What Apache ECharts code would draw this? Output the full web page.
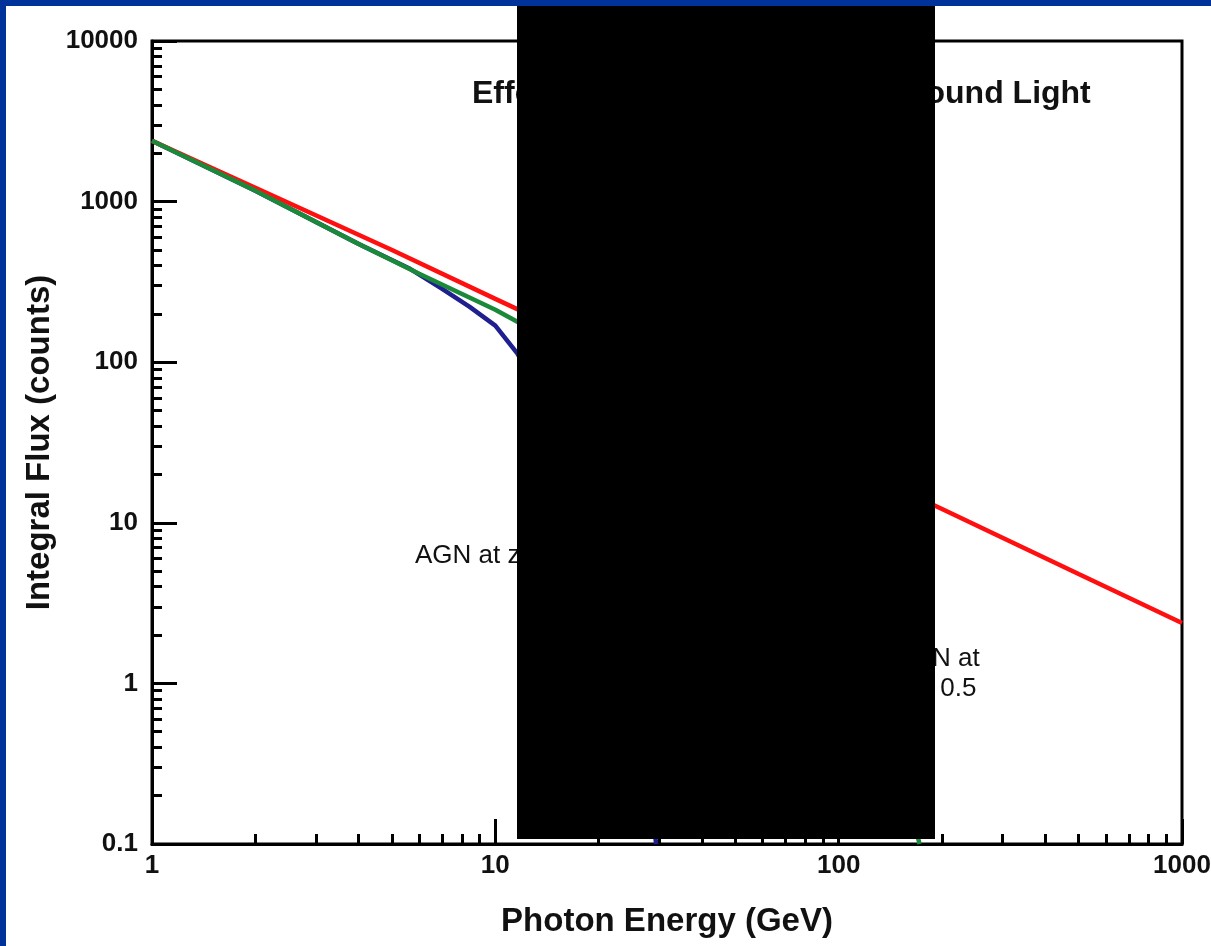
<!DOCTYPE html>
<html>
<head>
<meta charset="utf-8">
<script src="https://cdn.jsdelivr.net/npm/echarts@6/dist/echarts.min.js"></script>
<style>
  html, body { margin: 0; padding: 0; background: #fff; }
  #chart { width: 1211px; height: 946px; }
</style>
</head>
<body>
<div id="chart"></div>
<script>
// photon energy (GeV) and integral flux (counts)
const energyRed = [1, 2, 5, 10, 20, 50, 100, 200, 500, 1000]
const fluxRed = [2390, 1220, 500, 248, 124, 49, 24.4, 12.2, 4.8, 2.38]

const energyGreen = [1, 2, 4, 6, 10, 15, 20, 30, 50, 70, 100, 130, 155, 172]
const fluxGreen = [2390, 1170, 545, 355, 212, 132, 92, 52, 20, 8.5, 2.6, 0.75, 0.25, 0.1]

const energyBlue = [1, 2, 4, 5.6, 7, 8.4, 10, 11.6, 14, 17, 20, 24, 27, 29.4]
const fluxBlue = [2390, 1170, 545, 385, 286, 222, 169, 113, 55, 22, 8, 1.8, 0.5, 0.1]

const xDecades = [0, 1, 2]
const yDecades = [-1, 0, 1, 2, 3]
const minorSteps = [2, 3, 4, 5, 6, 7, 8, 9]

const FONT = '"Liberation Sans", Arial, Helvetica, sans-serif'

const pairs = (xs, ys) => xs.map((x, i) => [x, ys[i]])
const minorTicks = (decades) => {
  const out = []
  decades.forEach((d) => minorSteps.forEach((k) => out.push(d + Math.log10(k))))
  return out
}
const plain = (v) => String(Number(v.toPrecision(6)))

const chart = echarts.init(document.getElementById('chart'))

const tickStyle = { color: '#000', width: 3 }
const labelStyle = { fontFamily: FONT, fontSize: 26, fontWeight: 'bold', color: '#111', formatter: plain }

chart.setOption({
  backgroundColor: '#fff',
  animation: false,
  title: {
    text: 'Effect of Extragalactic Background Light',
    left: 472,
    top: 78,
    padding: 0,
    textStyle: { fontFamily: FONT, fontSize: 32, fontWeight: 'bold', color: '#111' },
  },
  grid: {
    left: 152, right: 29, top: 41, bottom: 102,
    outerBoundsMode: 'none', containLabel: false,
    show: true, borderColor: '#000', borderWidth: 3,
  },
  xAxis: [
    {
      type: 'log', logBase: 10, min: 1, max: 1000,
      name: 'Photon Energy (GeV)', nameLocation: 'middle', nameGap: 61,
      nameTextStyle: { fontFamily: FONT, fontSize: 33, fontWeight: 'bold', color: '#111' },
      axisLine: { onZero: false, lineStyle: { color: '#000', width: 3 } },
      axisTick: { inside: true, length: 25, lineStyle: tickStyle },
      axisLabel: { margin: 9, ...labelStyle },
      splitLine: { show: false },
    },
    {
      type: 'value', min: 0, max: 3, position: 'bottom',
      axisLine: { show: false, onZero: false },
      axisTick: { show: true, inside: true, length: 10, lineStyle: tickStyle, customValues: minorTicks(xDecades) },
      axisLabel: { show: false },
      splitLine: { show: false },
    },
  ],
  yAxis: [
    {
      type: 'log', logBase: 10, min: 0.1, max: 10000,
      name: 'Integral Flux (counts)', nameLocation: 'middle', nameGap: 96, nameMoveOverlap: false,
      nameTextStyle: { fontFamily: FONT, fontSize: 33, fontWeight: 'bold', color: '#111' },
      axisLine: { onZero: false, lineStyle: { color: '#000', width: 3 } },
      axisTick: { inside: true, length: 25, lineStyle: tickStyle },
      axisLabel: { margin: 14, ...labelStyle },
      splitLine: { show: false },
    },
    {
      type: 'value', min: -1, max: 4, position: 'left',
      axisLine: { show: false, onZero: false },
      axisTick: { show: true, inside: true, length: 10, lineStyle: tickStyle, customValues: minorTicks(yDecades) },
      axisLabel: { show: false },
      splitLine: { show: false },
    },
  ],
  series: [
    {
      type: 'line', name: 'blue', data: pairs(energyBlue, fluxBlue),
      showSymbol: false, lineStyle: { color: '#1f1f8f', width: 4.5 },
    },
    {
      type: 'line', name: 'red', data: pairs(energyRed, fluxRed),
      showSymbol: false, lineStyle: { color: '#ff1010', width: 4.5 },
    },
    {
      type: 'line', name: 'green', data: pairs(energyGreen, fluxGreen),
      showSymbol: false, lineStyle: { color: '#1a8a3a', width: 4.5 },
    },
  ],
  graphic: [
    { type: 'rect', shape: { x: 0, y: 0, width: 1211, height: 6 }, style: { fill: '#003399' }, z: 100 },
    { type: 'rect', shape: { x: 0, y: 0, width: 6, height: 946 }, style: { fill: '#003399' }, z: 100 },
    {
      type: 'text', x: 415, y: 556, z: 50,
      style: { text: 'AGN at z = 0.1', fontFamily: FONT, fontSize: 26, fill: '#111', verticalAlign: 'middle' },
    },
    {
      type: 'text', x: 937, y: 674, z: 50,
      style: { text: 'AGN at\nz = 0.5', fontFamily: FONT, fontSize: 26, lineHeight: 30, fill: '#111', align: 'center', verticalAlign: 'middle' },
    },
    { type: 'rect', shape: { x: 517, y: 6, width: 418, height: 833 }, style: { fill: '#000' }, z: 90 },
  ],
})
</script>
</body>
</html>
